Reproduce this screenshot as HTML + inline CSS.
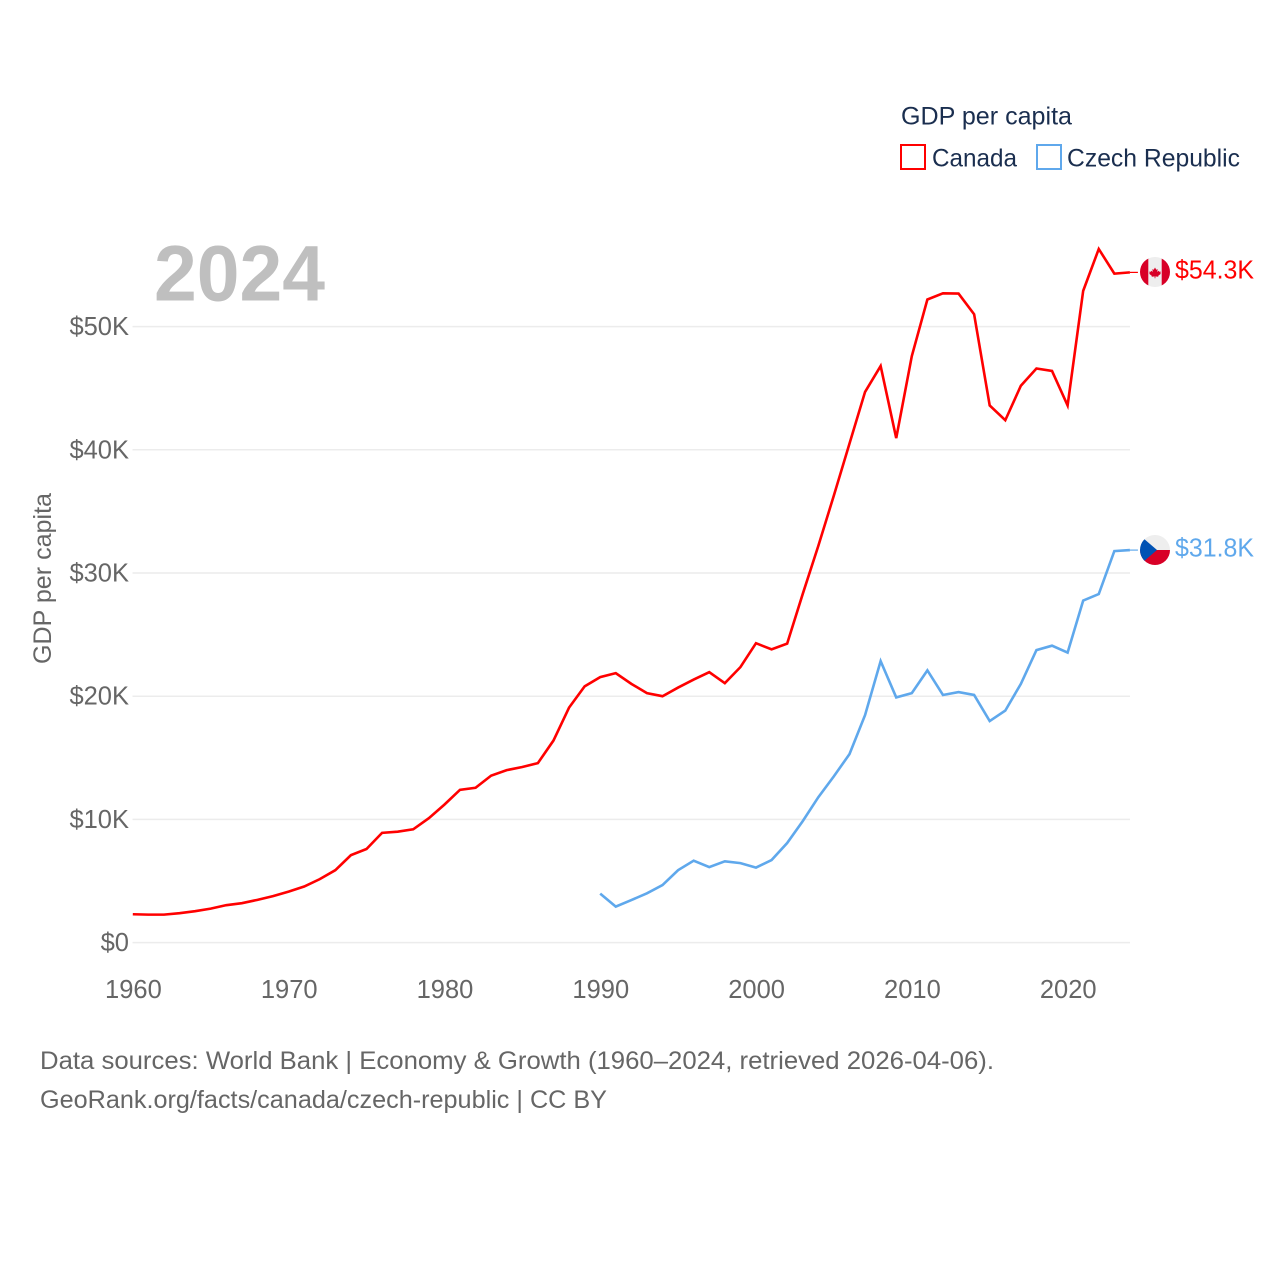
<!DOCTYPE html>
<html lang="en">
<head>
<meta charset="utf-8">
<title>GDP per capita: Canada and Czech Republic</title>
<style>
html,body{margin:0;padding:0;background:#fff;}
svg{display:block;}
text{font-family:"Liberation Sans",Arial,sans-serif;}
</style>
</head>
<body>
<svg id="chart" xmlns="http://www.w3.org/2000/svg" width="1280" height="1280" viewBox="0 0 1280 1280">
  <defs>
    <clipPath id="clip-ca"><circle cx="1155" cy="272" r="15"/></clipPath>
    <clipPath id="clip-cz"><circle cx="1155" cy="550" r="15"/></clipPath>
  </defs>
  <g id="grid"></g>
  <g id="yticks"></g>
  <g id="xticks"></g>
  <text x="154" y="300.5" font-size="79" font-weight="700" fill="#bfbfbf" textLength="171" lengthAdjust="spacingAndGlyphs">2024</text>
  <text transform="translate(51,664) rotate(-90)" font-size="25" fill="#666666" textLength="171" lengthAdjust="spacingAndGlyphs">GDP per capita</text>
  <g id="series"></g>

  <g>
    <text x="901" y="124.5" font-size="25" fill="#1a2e4f" textLength="171" lengthAdjust="spacingAndGlyphs">GDP per capita</text>
    <g>
      <rect x="901" y="145" width="24" height="24" fill="none" stroke="#ff0000" stroke-width="2"/>
      <text x="932" y="166.5" font-size="25" fill="#1a2e4f" textLength="85" lengthAdjust="spacingAndGlyphs">Canada</text>
    </g>
    <g>
      <rect x="1037" y="145" width="24" height="24" fill="none" stroke="#5fa8ec" stroke-width="2"/>
      <text x="1067" y="166.5" font-size="25" fill="#1a2e4f" textLength="173" lengthAdjust="spacingAndGlyphs">Czech Republic</text>
    </g>
  </g>

  <g clip-path="url(#clip-ca)">
    <rect x="1140" y="257" width="30" height="30" fill="#eeeeee"/>
    <rect x="1140" y="257" width="8.3" height="30" fill="#d80027"/>
    <rect x="1161.7" y="257" width="8.3" height="30" fill="#d80027"/>
    <path d="M1155 267.5l1.3 2.3 1.4-.7-.5 2.8 1.6-1.2.4 1.1 1.6-.2-.5 1.7.6.4-2.6 2-.1 1-2.8-.3v1.9h-.8v-1.9l-2.8.3-.1-1-2.6-2 .6-.4-.5-1.7 1.6.2.4-1.1 1.6 1.2-.5-2.8 1.4.7z" fill="#d80027"/>
  </g>
  <g clip-path="url(#clip-cz)">
    <rect x="1140" y="535" width="30" height="15" fill="#eeeeee"/>
    <rect x="1140" y="550" width="30" height="15" fill="#d80027"/>
    <polygon points="1139,534.5 1157,550 1139,565.5" fill="#0052b4"/>
  </g>
  <text x="1175" y="278.5" font-size="25.5" fill="#ff0000" textLength="79" lengthAdjust="spacingAndGlyphs">$54.3K</text>
  <text x="1175" y="556.5" font-size="25.5" fill="#5fa8ec" textLength="79" lengthAdjust="spacingAndGlyphs">$31.8K</text>

  <text x="40" y="1069" font-size="25" fill="#666666" textLength="954" lengthAdjust="spacingAndGlyphs">Data sources: World Bank | Economy &amp; Growth (1960–2024, retrieved 2026-04-06).</text>
  <text x="40" y="1108" font-size="25" fill="#666666" textLength="567" lengthAdjust="spacingAndGlyphs">GeoRank.org/facts/canada/czech-republic | CC BY</text>
</svg>
<script>
const startYear = 1960;
const canadaValues = [2.3,2.27,2.27,2.39,2.55,2.76,3.04,3.2,3.47,3.77,4.14,4.55,5.15,5.88,7.1,7.6,8.91,9.0,9.2,10.1,11.2,12.4,12.57,13.55,14.0,14.25,14.57,16.4,19.07,20.8,21.55,21.87,21.0,20.25,20.0,20.7,21.35,21.95,21.06,22.36,24.3,23.8,24.27,28.3,32.2,36.3,40.5,44.7,46.8,40.95,47.6,52.2,52.7,52.68,51.0,43.6,42.4,45.2,46.6,46.4,43.6,52.9,56.3,54.3,54.4];
const czechStartYear = 1990;
const czechValues = [3.98,2.92,3.45,4.0,4.67,5.88,6.65,6.13,6.6,6.45,6.09,6.7,8.08,9.86,11.8,13.5,15.3,18.47,22.85,19.9,20.25,22.1,20.1,20.33,20.1,17.98,18.83,21.0,23.74,24.1,23.54,27.76,28.29,31.78,31.86];
const yTickValues = [0,10,20,30,40,50];
const xTickYears = [1960,1970,1980,1990,2000,2010,2020];

const NS = 'http://www.w3.org/2000/svg';
function xScale(year){ return 132.8 + (year - 1960) * 15.58; }
function yScale(v){ return 942.6 - v * 12.32; }
function make(tag, attrs, parent){
  const el = document.createElementNS(NS, tag);
  Object.keys(attrs).forEach(function(k){ el.setAttribute(k, attrs[k]); });
  parent.appendChild(el);
  return el;
}
const grid = document.getElementById('grid');
const yticks = document.getElementById('yticks');
const xticks = document.getElementById('xticks');
const series = document.getElementById('series');

yTickValues.forEach(function(v){
  const line = make('line', {x1:132.5, x2:1130, y1:yScale(v), y2:yScale(v), stroke:'#ececec', 'stroke-width':1.5}, grid);
  
  
  const t = make('text', {x:129, y:yScale(v)+8.5, 'text-anchor':'end', 'font-size':25.5, fill:'#666666'}, yticks);
  t.textContent = v === 0 ? '$0' : '$' + v + 'K';
  
  
});
xTickYears.forEach(function(y){
  const t = make('text', {x:xScale(y) + 0.6, y:998, 'text-anchor':'middle', 'font-size':25.5, fill:'#666666'}, xticks);
  t.textContent = String(y);
  
  
});
function drawSeries(values, firstYear, color, seriesName, connectorName){
  const pts = values.map(function(v, i){ return xScale(firstYear + i).toFixed(2) + ',' + yScale(v).toFixed(2); });
  const line = make('polyline', {points:pts.join(' '), fill:'none', stroke:color, 'stroke-width':2.6, 'stroke-linejoin':'miter'}, series);
  
  
  const last = values[values.length - 1];
  const lastX = xScale(firstYear + values.length - 1);
  const conn = make('line', {x1:lastX, x2:lastX + 8, y1:yScale(last), y2:yScale(last), stroke:color, 'stroke-width':1.2}, series);
  
  
}
drawSeries(canadaValues, startYear, '#ff0000', 'line-canada', 'connector-canada');
drawSeries(czechValues, czechStartYear, '#5fa8ec', 'line-czech-republic', 'connector-czech-republic');
</script>
</body>
</html>
